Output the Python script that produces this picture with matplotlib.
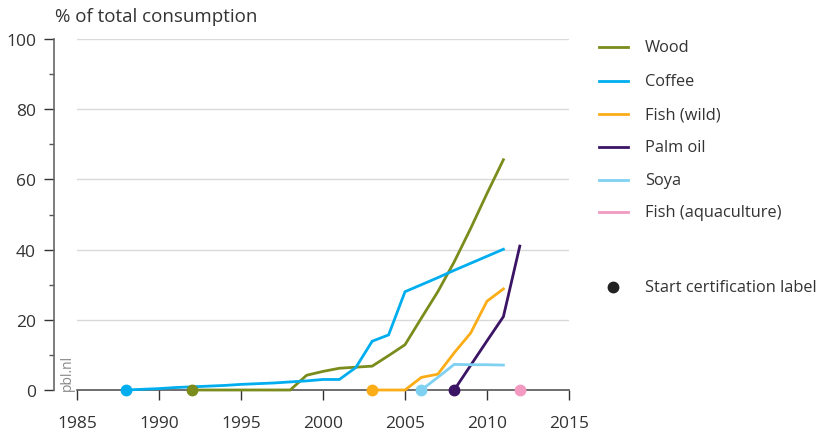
import matplotlib
matplotlib.use("Agg")
import matplotlib.pyplot as plt
from matplotlib.lines import Line2D

plt.rcParams['font.family'] = ['Open Sans', 'DejaVu Sans']

# ---- data ----
wood_years = [1992, 1993, 1994, 1995, 1996, 1997, 1998, 1999, 2000, 2001, 2002, 2003, 2004, 2005, 2006, 2007, 2008, 2009, 2010, 2011]
wood_vals = [0, 0, 0, 0, 0, 0, 0, 4.2, 5.3, 6.2, 6.5, 6.8, 9.8, 12.9, 20.5, 28.0, 36.5, 46.0, 56.0, 65.6]

coffee_years = [1988, 1989, 1990, 1991, 1992, 1993, 1994, 1995, 1996, 1997, 1998, 1999, 2000, 2001, 2002, 2003, 2004, 2005, 2006, 2007, 2008, 2009, 2010, 2011]
coffee_vals = [0, 0.2, 0.4, 0.7, 0.9, 1.1, 1.3, 1.6, 1.8, 2.0, 2.3, 2.6, 3.0, 3.0, 6.4, 13.9, 15.7, 28.0, 30.0, 32.0, 34.1, 36.1, 38.1, 40.1]

fishwild_years = [2003, 2004, 2005, 2006, 2007, 2008, 2009, 2010, 2011]
fishwild_vals = [0, 0, 0, 3.6, 4.5, 10.6, 16.2, 25.3, 28.8]

palm_years = [2008, 2009, 2010, 2011, 2012]
palm_vals = [0, 7.0, 14.0, 20.9, 41.0]

soya_years = [2006, 2007, 2008, 2009, 2010, 2011]
soya_vals = [0, 3.6, 7.3, 7.2, 7.2, 7.1]

fishaqua_years = [2012]
fishaqua_vals = [0]

series = [
    ("Wood", wood_years, wood_vals, "#7b8c1d"),
    ("Coffee", coffee_years, coffee_vals, "#00aeef"),
    ("Fish (wild)", fishwild_years, fishwild_vals, "#fbad18"),
    ("Palm oil", palm_years, palm_vals, "#3c1465"),
    ("Soya", soya_years, soya_vals, "#7fd1f2"),
    ("Fish (aquaculture)", fishaqua_years, fishaqua_vals, "#f29ac1"),
]

x_ticks = [1985, 1990, 1995, 2000, 2005, 2010, 2015]
y_ticks = [0, 20, 40, 60, 80, 100]

fig = plt.figure(figsize=(8.2, 4.31), dpi=100)
ax = fig.add_axes([77/820, 1-391/431, (569-77)/820, (391-40)/431])
ax.set_xlim(1985, 2015)
ax.set_ylim(0, 100)

for v in y_ticks[1:]:
    ax.axhline(v, color="#d9d9d9", lw=1.0, zorder=0)

for name, xs, ys, col in series:
    if len(xs) > 1:
        ax.plot(xs, ys, color=col, lw=2.0, solid_joinstyle='miter', zorder=3, clip_on=False)
    ax.plot([xs[0]], [ys[0]], 'o', color=col, ms=7.5, zorder=5, clip_on=False)

for s in ['top', 'right']:
    ax.spines[s].set_visible(False)
ax.spines['left'].set_position(('outward', 23 * 72 / 100))
ax.spines['left'].set_color('#666666')
ax.spines['bottom'].set_color('#555555')
ax.spines['left'].set_linewidth(1.2)
ax.spines['bottom'].set_linewidth(1.2)
ax.spines['bottom'].set_zorder(2)

ax.set_xticks(x_ticks)
ax.set_yticks(y_ticks)
ax.set_yticks([10, 30, 50, 70, 90], minor=True)
ax.tick_params(axis='x', direction='out', length=7, width=1.0, color='#333333', labelsize=12.5, labelcolor='#333333', pad=11)
ax.tick_params(axis='y', which='major', direction='out', length=7, width=1.0, color='#333333', labelsize=12.5, labelcolor='#333333', pad=6)
ax.tick_params(axis='y', which='minor', direction='out', length=3.5, width=1.0, color='#555555')

fig.text(55/820, 1-17/431, "% of total consumption", fontsize=13.5, color='#333333', va='center', ha='left')
fig.text(67/820, 1-373/431, "pbl.nl", fontsize=10, color='#888888', rotation=90, va='center', ha='center')

# legend
leg_y = [48, 82, 115, 148, 181, 213]
for (name, xs, ys, col), yy in zip(series, leg_y):
    fig.add_artist(Line2D([599/820, 628/820], [1-yy/431, 1-yy/431], color=col, lw=2.0))
    fig.text(645/820, 1-yy/431, name, fontsize=11.8, color='#333333', va='center', ha='left')
fig.add_artist(Line2D([613/820], [1-288/431], marker='o', color='#222222', ms=7.5, lw=0))
fig.text(645/820, 1-288/431, "Start certification label", fontsize=11.8, color='#333333', va='center', ha='left')

fig.savefig("out.png", dpi=100)
